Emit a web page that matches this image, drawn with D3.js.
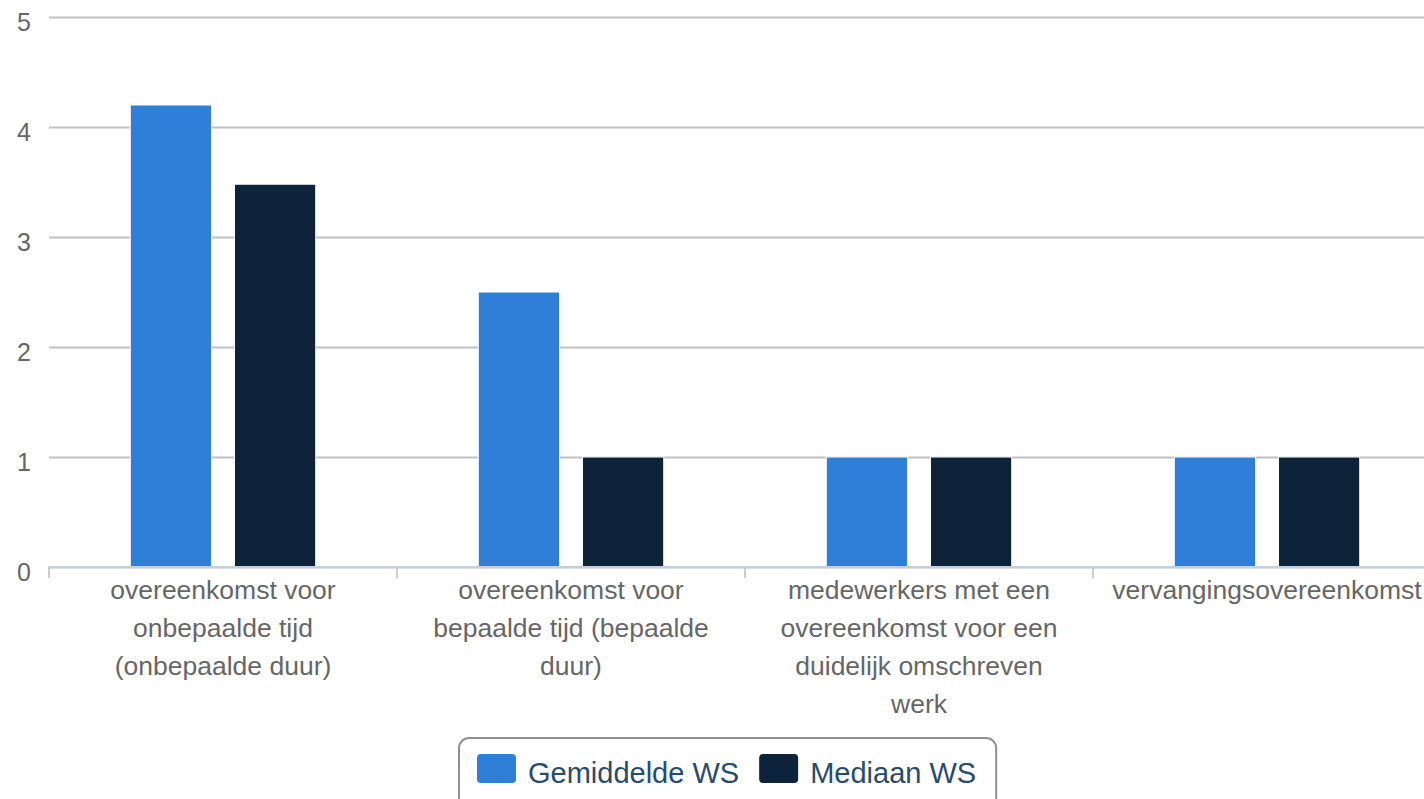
<!DOCTYPE html>
<html lang="nl">
<head>
<meta charset="UTF-8">
<title>Werkstudenten per type overeenkomst</title>
<script src="https://d3js.org/d3.v7.min.js"></script>
<style>
    body { margin: 0; background: #fff; }
    text { font-family: "Liberation Sans", Arial, Helvetica, sans-serif; }
</style>
</head>
<body>
<div id="chart"></div>
<script>
// categories and series
var categories = [
    "overeenkomst voor onbepaalde tijd (onbepaalde duur)",
    "overeenkomst voor bepaalde tijd (bepaalde duur)",
    "medewerkers met een overeenkomst voor een duidelijk omschreven werk",
    "vervangingsovereenkomst"
];
var seriesNames = ["Gemiddelde WS", "Mediaan WS"];
var gemiddelde = [4.2, 2.5, 1, 1];
var mediaan = [3.48, 1, 1, 1];
var seriesColors = ["#2f7ed8", "#0d233a"];
var yTicks = [0, 1, 2, 3, 4, 5];

var width = 1424, height = 799;
var margin = {top: 17, left: 49};
var plotH = 550, plotW = 1392;

var svg = d3.select("#chart").append("svg")
    .attr("width", width)
    .attr("height", height);

var y = d3.scaleLinear().domain([0, 5]).range([margin.top + plotH, margin.top]);
var x0 = d3.scaleBand().domain(categories).range([margin.left, margin.left + plotW]);
var x1 = d3.scaleBand().domain(seriesNames).range([0, x0.bandwidth()])
    .paddingInner(0.22).paddingOuter(0.78);

// grid lines + y labels
var yAxis = d3.axisLeft(y).tickValues(yTicks).tickFormat(d3.format("d"))
    .tickSize(-plotW - 40).tickPadding(0);
var gy = svg.append("g")
    .attr("transform", "translate(" + margin.left + ",0)")
    .call(yAxis);
gy.select(".domain").remove();
gy.selectAll(".tick line").attr("stroke", "#c0c0c0").attr("stroke-width", 2);
gy.selectAll(".tick text")
    .attr("x", -18)
    .attr("dy", "0.55em")
    .attr("fill", "#666")
    .attr("font-size", "25px");

// bars
var rows = categories.map(function(c, i) {
    return {cat: c, vals: [gemiddelde[i], mediaan[i]]};
});
svg.append("g").selectAll("g")
    .data(rows)
    .join("g")
    .attr("transform", function(d) { return "translate(" + x0(d.cat) + ",0)"; })
    .selectAll("rect")
    .data(function(d) { return d.vals.map(function(v, j) { return {s: seriesNames[j], v: v, j: j}; }); })
    .join("rect")
    .attr("x", function(d) { return x1(d.s); })
    .attr("y", function(d) { return y(d.v); })
    .attr("width", x1.bandwidth())
    .attr("height", function(d) { return y(0) - y(d.v); })
    .attr("fill", function(d) { return seriesColors[d.j]; })
    .attr("stroke", "#fff")
    .attr("stroke-width", 1);

// x axis
var xAxis = d3.axisBottom(x0).tickSize(0).tickPadding(0);
var gx = svg.append("g")
    .attr("transform", "translate(0," + y(0) + ")")
    .call(xAxis);
gx.select(".domain").remove();
gx.append("line")
    .attr("x1", margin.left - 1).attr("x2", width)
    .attr("stroke", "#c0d0e0").attr("stroke-width", 2);
gx.selectAll(".boundary")
    .data(categories)
    .join("line")
    .attr("class", "boundary")
    .attr("x1", function(d) { return x0(d); })
    .attr("x2", function(d) { return x0(d); })
    .attr("y1", 0).attr("y2", 11)
    .attr("stroke", "#c0d0e0").attr("stroke-width", 2);

gx.selectAll(".tick text")
    .attr("fill", "#666")
    .attr("font-size", "26.5px")
    .attr("y", 32)
    .attr("dy", 0)
    .call(wrap, 292);

function wrap(sel, maxW) {
    sel.each(function() {
        var t = d3.select(this);
        var words = t.text().split(/\s+/);
        t.text(null);
        var line = [];
        var ts = t.append("tspan").attr("x", 0).attr("dy", 0);
        words.forEach(function(w) {
            line.push(w);
            ts.text(line.join(" "));
            if (ts.node().getComputedTextLength() > maxW && line.length > 1) {
                line.pop();
                ts.text(line.join(" "));
                line = [w];
                ts = t.append("tspan").attr("x", 0).attr("dy", "38px").text(w);
            }
        });
    });
}

// legend
var legend = svg.append("g");
var lx = 477, ly = 754, cur = lx;
seriesNames.forEach(function(name, i) {
    legend.append("rect")
        .attr("x", cur).attr("y", ly)
        .attr("width", 39).attr("height", 29)
        .attr("rx", 4)
        .attr("fill", seriesColors[i]);
    var t = legend.append("text")
        .attr("x", cur + 51).attr("y", ly + 29)
        .attr("fill", "#274b6d")
        .attr("font-size", "29px")
        .text(name);
    cur = cur + 51 + t.node().getComputedTextLength() + 20;
});
legend.insert("rect", ":first-child")
    .attr("x", 459).attr("y", 738)
    .attr("width", cur - 459).attr("height", 80)
    .attr("rx", 10)
    .attr("fill", "#fff")
    .attr("stroke", "#909090")
    .attr("stroke-width", 2);
</script>
</body>
</html>
